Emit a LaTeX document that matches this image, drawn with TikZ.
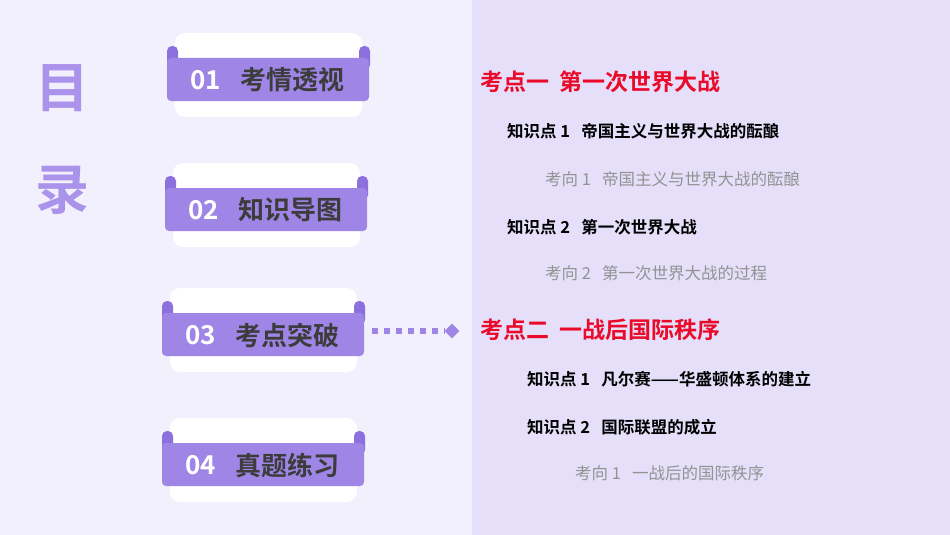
\documentclass[tikz,border=0pt]{standalone}
\usepackage{fontspec}
\setmainfont{Liberation Sans}
\newfontfamily\cjk{Noto Sans CJK SC}
\newfontfamily\cjkb{Noto Sans CJK SC Bold}
\usetikzlibrary{shapes.geometric}
\definecolor{bgl}{HTML}{F2F0FD}
\definecolor{bgr}{HTML}{E5DFFA}
\definecolor{pur}{HTML}{9F86E6}
\definecolor{purd}{HTML}{8C70DD}
\definecolor{ttl}{HTML}{AB92EA}
\definecolor{red1}{HTML}{EA0A2A}
\definecolor{dark}{HTML}{3C3C3C}
\begin{document}
\begin{tikzpicture}[x=1pt,y=-1pt,
  capbox/.style={fill=white,rounded corners=10pt,draw=none},
  band/.style={fill=pur,rounded corners=4pt,draw=none},
  lbl/.style={anchor=west,font=\cjkb\fontsize{26}{26}\selectfont,text=dark,inner sep=0},
  kd/.style={anchor=west,font=\cjkb\fontsize{23}{23}\selectfont,text=red1,inner sep=0},
  kp/.style={anchor=west,font=\cjkb\fontsize{16.5}{16.5}\selectfont,text=black,inner sep=0},
  kx/.style={anchor=west,font=\cjk\fontsize{16.5}{16.5}\selectfont,text=gray!85,inner sep=0}]
\fill[bgl] (0,0) rectangle (950,535);
\fill[bgr] (472,0) rectangle (950,535);
\useasboundingbox (0,0) rectangle (950,535);
\node[font=\cjkb\fontsize{54}{54}\selectfont,text=ttl] (t1) at (62,88) {目};
\node[font=\cjkb\fontsize{54}{54}\selectfont,text=ttl] (t2) at (62,190) {录};
\foreach \y/\n/\t/\s in {80/01/考情透视/0,210/02/知识导图/-2,335/03/考点突破/-5,465/04/真题练习/-5}{
  \fill[capbox] (175+\s,\y-47) rectangle (362+\s,\y-10);
  \fill[purd,rounded corners=5pt] (167+\s,\y-34) rectangle (178+\s,\y-10);
  \fill[purd,rounded corners=5pt] (359+\s,\y-34) rectangle (370+\s,\y-10);
  \fill[capbox] (175+\s,\y+10) rectangle (362+\s,\y+37);
  \fill[band] (167+\s,\y-22) rectangle (369+\s,\y+21);
  \node[anchor=west,font=\cjkb\fontsize{26}{26}\selectfont,text=white,inner sep=0] at (190+\s,\y) {\n};
  \node[lbl] at (240+\s,\y) {\t};
}
\coordinate (a0) at (372,331);
\node[diamond,fill=pur,minimum size=15pt,inner sep=0] (ad) at (452,331) {};
\draw[pur,line width=6pt,dash pattern=on 6pt off 6pt] (a0) -- (ad.west);
\node[kd] (k1) at (480,82) {考点一\ \ 第一次世界大战};
\node[kp] (p1) at (507,131) {知识点 1\ \ \ 帝国主义与世界大战的酝酿};
\node[kx] (x1) at (545,179) {考向 1\ \ \ 帝国主义与世界大战的酝酿};
\node[kp] (p2) at (507,227) {知识点 2\ \ \ 第一次世界大战};
\node[kx] (x2) at (545,273) {考向 2\ \ \ 第一次世界大战的过程};
\node[kd] (k2) at (480,330) {考点二\ \ 一战后国际秩序};
\node[kp] (p3) at (527,379) {知识点 1\ \ \ 凡尔赛——华盛顿体系的建立};
\node[kp] (p4) at (527,427) {知识点 2\ \ \ 国际联盟的成立};
\node[kx] (x3) at (575,473) {考向 1\ \ \ 一战后的国际秩序};
\end{tikzpicture}
\end{document}
